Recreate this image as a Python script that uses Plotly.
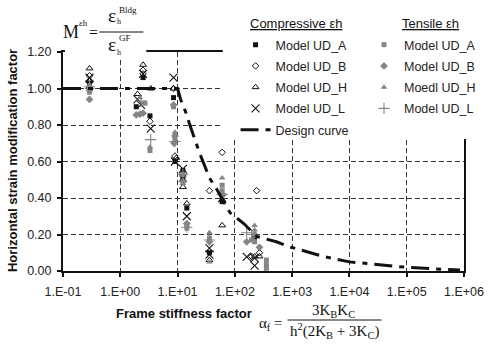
import plotly.graph_objects as go

# ---------------- data ----------------
x_tick_vals = [0.1, 1, 10, 100, 1000, 10000, 100000, 1000000]
x_tick_text = ["1.E-01", "1.E+00", "1.E+01", "1.E+02", "1.E+03", "1.E+04", "1.E+05", "1.E+06"]
y_tick_vals = [0.0, 0.2, 0.4, 0.6, 0.8, 1.0, 1.2]
y_tick_text = ["0.00", "0.20", "0.40", "0.60", "0.80", "1.00", "1.20"]

comp_a_x = [0.29, 0.29, 2.5, 1.9, 3.3, 8.5, 9.0, 12.4, 12.4, 14.5, 36, 60, 221]
comp_a_y = [1.03, 1.00, 1.06, 0.90, 0.85, 0.95, 0.60, 0.55, 0.50, 0.345, 0.10, 0.38, 0.185]

comp_b_x = [0.29, 2.5, 2.5, 3.3, 8.5, 9.0, 12.4, 36, 60, 240, 269, 196]
comp_b_y = [1.07, 1.10, 1.08, 0.82, 1.00, 0.63, 0.52, 0.44, 0.65, 0.44, 0.10, 0.08]

comp_h_x = [0.29, 0.29, 2.5, 3.4, 2.0, 8.5, 9.5, 12.4, 14.5, 36, 60, 221, 269]
comp_h_y = [1.11, 1.04, 1.13, 1.00, 0.97, 1.00, 0.62, 0.46, 0.37, 0.06, 0.25, 0.08, 0.08]

comp_l_x = [0.29, 0.29, 2.5, 2.0, 2.3, 3.4, 8.5, 9.0, 12.4, 12.4, 14.5, 36, 36, 60, 161, 221, 221]
comp_l_y = [1.06, 1.02, 1.08, 0.94, 0.91, 0.78, 1.06, 0.60, 0.56, 0.51, 0.30, 0.125, 0.09, 0.40, 0.077, 0.07, 0.03]

tens_a_x = [0.29, 0.29, 2.7, 3.3, 8.5, 9.0, 12.4, 14.5, 14.5, 36, 60, 60, 196, 221, 355, 355, 355]
tens_a_y = [1.00, 0.98, 0.92, 0.66, 0.90, 0.72, 0.53, 0.25, 0.235, 0.18, 0.47, 0.44, 0.17, 0.16, 0.06, 0.035, 0.015]

tens_b_x = [0.29, 0.29, 1.9, 2.2, 2.5, 8.5, 9.0, 8.7, 12.4, 14.5, 36, 60, 161, 221, 269]
tens_b_y = [0.94, 0.99, 0.855, 0.86, 0.865, 0.91, 0.74, 0.70, 0.49, 0.26, 0.16, 0.42, 0.16, 0.20, 0.13]

tens_h_x = [0.29, 2.2, 3.3, 9.0, 12.4, 36, 36, 60, 221, 221]
tens_h_y = [1.02, 0.95, 0.68, 0.76, 0.48, 0.21, 0.05, 0.51, 0.25, 0.225]

tens_l_x = [0.29, 2.3, 3.4, 9.0, 12.4, 14.5, 36, 60, 161, 196]
tens_l_y = [1.01, 0.93, 0.72, 0.71, 0.53, 0.24, 0.17, 0.42, 0.21, 0.20]

design_x = [0.1, 10, 11.3, 13.9, 16.4, 24, 36, 50, 82, 143, 240, 530, 960, 3500,
            10000, 40000, 100000, 500000, 850000]
design_y = [1.0, 1.0, 0.94, 0.87, 0.80, 0.65, 0.51, 0.44, 0.32, 0.26, 0.19, 0.16, 0.13, 0.08,
            0.05, 0.03, 0.02, 0.008, 0.005]

comp_names = ["Model UD_A", "Model UD_B", "Model UD_H", "Model UD_L"]
tens_names = ["Model UD_A", "Model UD_B", "Moedl UD_H", "Model UD_L"]

# ---------------- layout helpers (pixel -> paper) ----------------
FW, FH = 496, 344
L, R, T, B = 63, 472, 52, 271


def px(x):
    return (x - L) / (R - L)


def py(y):
    return (B - y) / (B - T)


BLACK = "#111111"
GRAY = "#858585"
SERIF = "Liberation Serif, Times New Roman, serif"
SANS = "Liberation Sans, Arial, sans-serif"

fig = go.Figure()

comp_styles = [
    dict(symbol="square", size=5, color=BLACK),
    dict(symbol="diamond-open", size=5, color=BLACK, line=dict(width=1, color=BLACK)),
    dict(symbol="triangle-up-open", size=6, color=BLACK, line=dict(width=1, color=BLACK)),
    dict(symbol="x-thin-open", size=8, color=BLACK, line=dict(width=1.1, color=BLACK)),
]
tens_styles = [
    dict(symbol="square", size=5, color=GRAY),
    dict(symbol="diamond", size=6, color=GRAY),
    dict(symbol="triangle-up", size=6, color=GRAY),
    dict(symbol="cross-thin-open", size=8, color=GRAY, line=dict(width=1.1, color=GRAY)),
]

comp_data = [(comp_a_x, comp_a_y), (comp_b_x, comp_b_y), (comp_h_x, comp_h_y), (comp_l_x, comp_l_y)]
tens_data = [(tens_a_x, tens_a_y), (tens_b_x, tens_b_y), (tens_h_x, tens_h_y), (tens_l_x, tens_l_y)]

for i, ((xs, ys), st, nm) in enumerate(zip(comp_data, comp_styles, comp_names)):
    fig.add_trace(go.Scatter(x=xs, y=ys, mode="markers", name=nm, marker=st,
                             legend="legend", legendgroup="c%d" % i))
for i, ((xs, ys), st, nm) in enumerate(zip(tens_data, tens_styles, tens_names)):
    fig.add_trace(go.Scatter(x=xs, y=ys, mode="markers", name=nm, marker=st,
                             legend="legend2", legendgroup="t%d" % i))

fig.add_trace(go.Scatter(x=design_x, y=design_y, mode="lines", name="Design curve",
                         line=dict(color=BLACK, width=3, dash="18px,7px,5px,7px"),
                         legend="legend", legendgroup="d"))

axis_common = dict(
    showline=True, linewidth=2, linecolor=BLACK, mirror=True,
    ticks="outside", ticklen=4, tickwidth=1.5, tickcolor=BLACK,
    showgrid=True, gridcolor="#333333", gridwidth=1, griddash="5px,3px",
    zeroline=False, tickfont=dict(family=SANS, size=12.5, color="#222222"),
)

fig.update_xaxes(type="log", range=[-1, 6], tickvals=x_tick_vals, ticktext=x_tick_text,
                 ticklabelstandoff=4, **axis_common)
fig.update_yaxes(range=[0, 1.2], tickvals=y_tick_vals, ticktext=y_tick_text,
                 ticklabelstandoff=3, **axis_common)

legend_common = dict(
    xanchor="left", yanchor="top", bgcolor="rgba(0,0,0,0)", borderwidth=0,
    font=dict(family=SANS, size=12.5, color="#222222"),
    traceorder="grouped", tracegroupgap=2, itemsizing="trace",
)

fig.update_layout(
    width=FW, height=FH,
    margin=dict(l=L, r=FW - R, t=T, b=FH - B),
    paper_bgcolor="white", plot_bgcolor="white",
    font=dict(family=SANS, size=12.5, color="#222222"),
    showlegend=True,
    legend=dict(x=px(239), y=py(30), **legend_common),
    legend2=dict(x=px(370), y=py(30), **legend_common),
)

shapes = [
    # white cover behind legend (hides gridlines / frame like the original)
    dict(type="rect", xref="paper", yref="paper", x0=px(226), x1=px(500), y0=py(139), y1=py(-5),
         fillcolor="white", line=dict(width=0), layer="above"),
    # white cover behind top formula
    dict(type="rect", xref="paper", yref="paper", x0=px(65), x1=px(148), y0=py(58), y1=py(-5),
         fillcolor="white", line=dict(width=0), layer="above"),
    # fraction bars
    dict(type="line", xref="paper", yref="paper", x0=px(100), x1=px(145), y0=py(32), y1=py(32),
         line=dict(color=BLACK, width=1), layer="above"),
    dict(type="line", xref="paper", yref="paper", x0=px(292), x1=px(388), y0=py(320), y1=py(320),
         line=dict(color=BLACK, width=1), layer="above"),
]
fig.update_layout(shapes=shapes)


def ann(text, x, y, size, family=SANS, xanchor="center", yanchor="middle", angle=0):
    fig.add_annotation(text=text, x=px(x), y=py(y), xref="paper", yref="paper",
                       showarrow=False, xanchor=xanchor, yanchor=yanchor, textangle=angle,
                       font=dict(family=family, size=size, color="#111111"))


# axis titles
ann("<b>Horizontal strain modification factor</b>", 11, 161, 13, angle=-90)
ann("<b>Frame stiffness factor</b>", 186, 313, 13)

# legend headers
ann("<u>Compressive εh</u>", 252, 23, 13, xanchor="left")
ann("<u>Tensile εh</u>", 407, 23, 13, xanchor="left")

# top formula  M^εh = ε_h^Bldg / ε_h^GF
ann("M", 71, 32, 18, family=SERIF)
ann("εh", 84, 23, 9, family=SERIF)
ann("=", 94, 32, 16, family=SERIF)
ann("ε", 113, 15, 19, family=SERIF)
ann("Bldg", 129, 10, 9, family=SERIF)
ann("h", 120, 22, 8, family=SERIF)
ann("ε", 113, 44, 19, family=SERIF)
ann("GF", 126, 38, 9, family=SERIF)
ann("h", 120, 52, 8, family=SERIF)

# bottom formula  α_f = 3K_B K_C / (h²(2K_B + 3K_C))
ann("α<sub>f</sub> =", 289, 324, 15, family=SERIF, xanchor="right")
ann("3K<sub>B</sub>K<sub>C</sub>", 339, 311, 15, family=SERIF)
ann("h<sup>2</sup>(2K<sub>B</sub> + 3K<sub>C</sub>)", 340, 331, 15, family=SERIF)

fig.write_html("out.html")
